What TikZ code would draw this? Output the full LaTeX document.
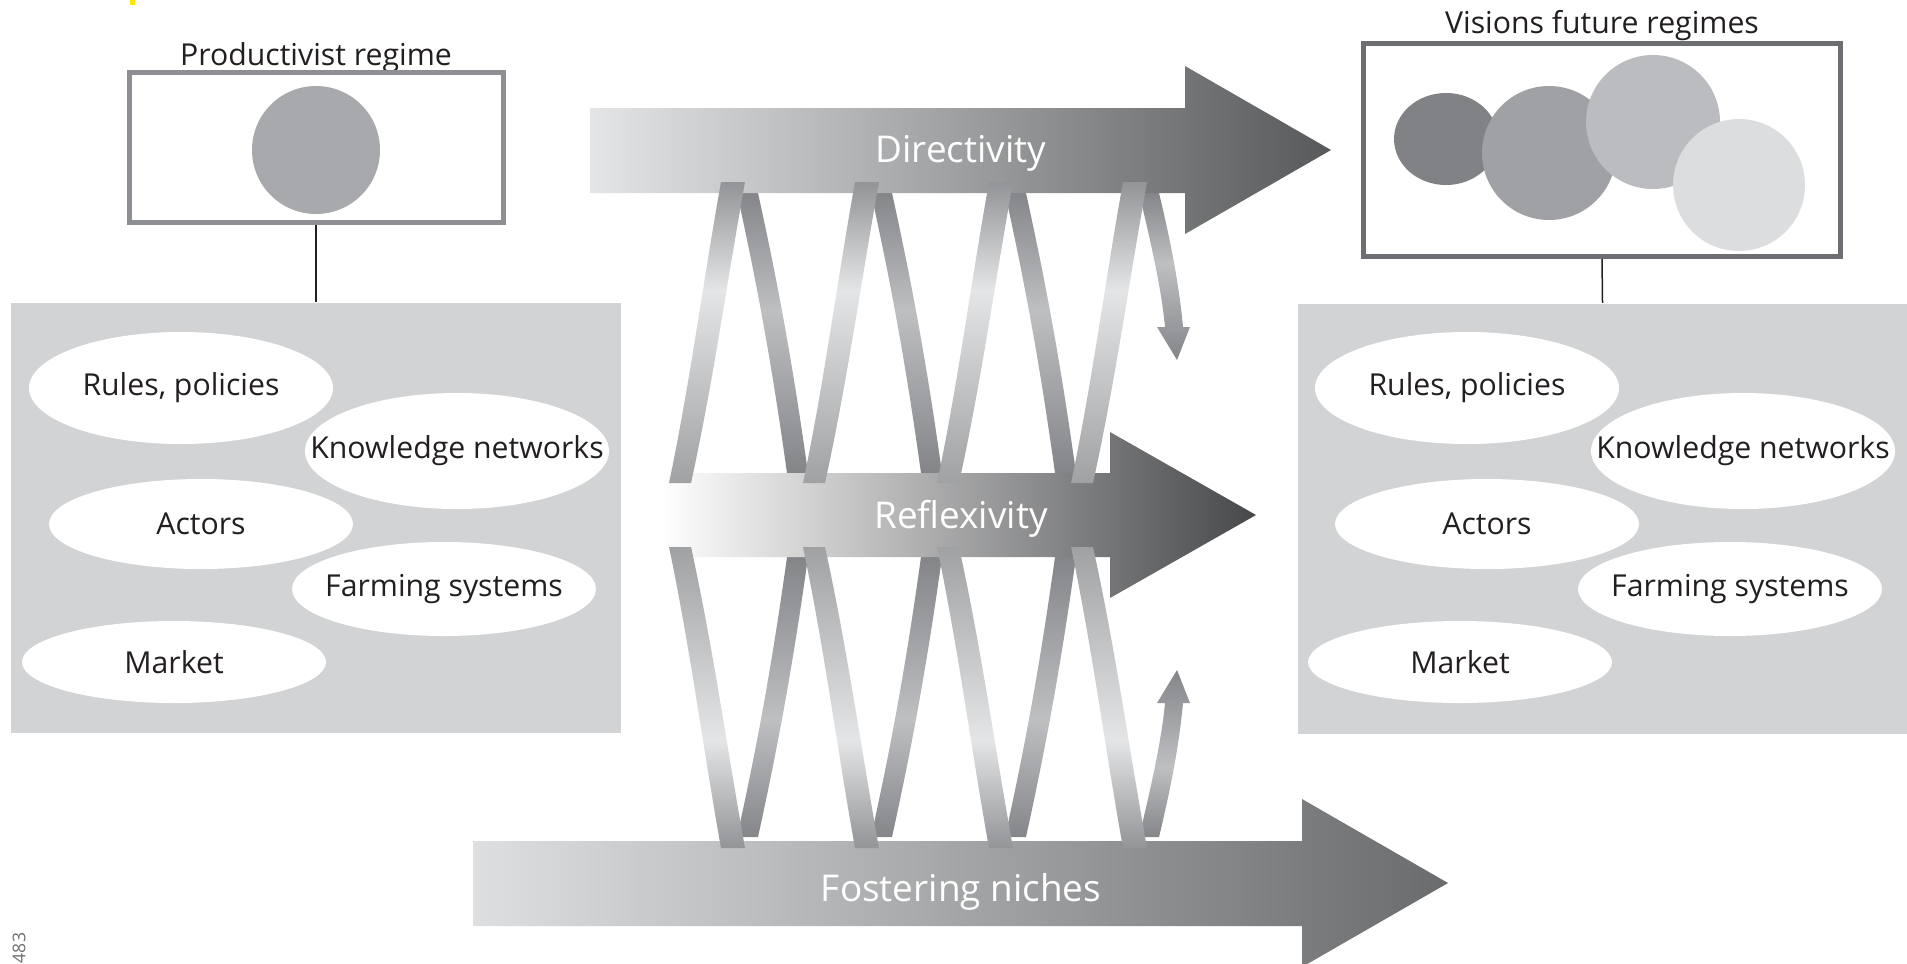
\documentclass[tikz,border=0pt]{standalone}
\usepackage{fontspec}
\setmainfont{Open Sans}
\usetikzlibrary{shapes.geometric}

\definecolor{inkblack}{HTML}{231F20}
\definecolor{panelgray}{HTML}{D1D3D4}
\definecolor{leftline}{HTML}{8E8F92}
\definecolor{rightline}{HTML}{6D6E71}
\definecolor{prodgray}{HTML}{A7A9AC}
\definecolor{visone}{HTML}{808285}
\definecolor{vistwo}{HTML}{A0A1A4}
\definecolor{visthree}{HTML}{BBBCBF}
\definecolor{visfour}{HTML}{DCDDDE}
\definecolor{dirleft}{HTML}{E4E5E6}
\definecolor{dirright}{HTML}{58595B}
\definecolor{reflmid}{HTML}{A4A5A7}
\definecolor{reflright}{HTML}{47484A}
\definecolor{fostleft}{HTML}{DEDFE0}
\definecolor{fostright}{HTML}{6A6B6D}
\definecolor{fronttop}{HTML}{939497}
\definecolor{frontmid}{HTML}{E4E5E6}
\definecolor{frontbot}{HTML}{A0A1A3}
\definecolor{backtop}{HTML}{85868A}
\definecolor{backmid}{HTML}{BEBFC1}
\definecolor{backbot}{HTML}{848589}
\definecolor{pagegray}{HTML}{6D6E70}

% light band sits nearer to the directivity arrow
\pgfdeclareverticalshading{frontup}{100bp}{color(0bp)=(frontbot); color(25bp)=(frontbot);
  color(57bp)=(frontmid); color(75bp)=(fronttop); color(100bp)=(fronttop)}
\pgfdeclareverticalshading{frontdown}{100bp}{color(0bp)=(fronttop); color(25bp)=(fronttop);
  color(43bp)=(frontmid); color(75bp)=(frontbot); color(100bp)=(frontbot)}
\pgfdeclareverticalshading{backup}{100bp}{color(0bp)=(backbot); color(25bp)=(backbot);
  color(54bp)=(backmid); color(75bp)=(backtop); color(100bp)=(backtop)}
\pgfdeclareverticalshading{backdown}{100bp}{color(0bp)=(backtop); color(25bp)=(backtop);
  color(46bp)=(backmid); color(75bp)=(backbot); color(100bp)=(backbot)}

\tikzstyle{regbox}=[shape=rectangle, line width=0.5mm, fill=white, inner sep=0pt]
\tikzstyle{panel}=[shape=rectangle, fill=panelgray, inner sep=0pt, minimum width=61mm, minimum height=43mm]
\tikzstyle{part}=[ellipse, fill=white, inner sep=0pt, minimum width=30.4mm, text=inkblack, font=\fontsize{8.6}{10}\selectfont]
\tikzstyle{title}=[text=inkblack, font=\fontsize{8.6}{10}\selectfont]
\tikzstyle{flowtext}=[text=white, font=\fontsize{10.5}{12}\selectfont]
\tikzstyle{frontrib}=[shading=frontup]
\tikzstyle{backrib}=[shading=backup]

% one turn of the coil, #1 = left foot of the turn
\newcommand{\frontstrand}[1]{%
  \shade[frontrib] (#1+2,483) .. controls (#1+23,383) and (#1+36,282) .. (#1+54,182)
    -- (#1+78,182) .. controls (#1+60,282) and (#1+46,383) .. (#1+24,483) -- cycle;}
\newcommand{\backstrand}[1]{%
  \shade[backrib] (#1+70,193) .. controls (#1+92,293) and (#1+106,373) .. (#1+120,473)
    -- (#1+141,473) .. controls (#1+127,373) and (#1+113,293) .. (#1+91,193) -- cycle;}
\newcommand{\arrowstrand}[1]{%
  \shade[backrib] (#1+70,193) .. controls (#1+85,255) and (#1+93,295) .. (#1+96,327)
    -- (#1+88,327) -- (#1+108,360) -- (#1+121,327) -- (#1+114,327)
    .. controls (#1+111,295) and (#1+105,255) .. (#1+90,193) -- cycle;}

\begin{document}
\begin{tikzpicture}[x=0.1mm, y=-0.1mm]
        \useasboundingbox (0,0) rectangle (1907,963);
        \fill[yellow!90!orange] (130,0) rectangle (135,5);
        \node[rotate=90, text=pagegray, font=\fontsize{5}{6}\selectfont] (pagenum) at (19,948) {483};

        % left: productivist regime
        \node[title] at (316,58) (prodlabel) {Productivist regime};
        \node[regbox, draw=leftline, minimum width=37.4mm, minimum height=15mm] at (316,147.5) (prodbox) {};
        \node[circle, fill=prodgray, minimum size=12.8mm, inner sep=0pt] at (316,150) (prodcirc) {};
        \node[panel] at (316,517.5) (leftpanel) {};
        \node[part, minimum height=11.2mm] at (181,388) (lrules) {\makebox[0pt]{Rules, policies}};
        \node[part, minimum height=11.6mm] at (457,451) (lknow) {\makebox[0pt]{Knowledge networks}};
        \node[part, minimum height=9mm] at (201,524) (lactors) {\makebox[0pt]{Actors}};
        \node[part, minimum height=9.4mm] at (444,589) (lfarm) {\makebox[0pt]{Farming systems}};
        \node[part, minimum height=8.2mm] at (174,662) (lmarket) {\makebox[0pt]{Market}};
        \draw[inkblack, line width=0.15mm] (prodbox.south) -- (leftpanel.north);

        % right: visions future regimes
        \node[title] at (1602,26) (vislabel) {Visions future regimes};
        \node[regbox, draw=rightline, minimum width=47.7mm, minimum height=21.3mm] at (1602,150) (visbox) {};
        \node[ellipse, fill=visone, minimum width=10.4mm, minimum height=9.2mm, inner sep=0pt] at (1446,139) (visa) {};
        \node[circle, fill=vistwo, minimum size=13.4mm, inner sep=0pt] at (1549,153) (visb) {};
        \node[circle, fill=visthree, minimum size=13.4mm, inner sep=0pt] at (1653,122) (visc) {};
        \node[circle, fill=visfour, minimum size=13.2mm, inner sep=0pt] at (1739,185) (visd) {};
        \node[panel] at (1602.5,518.5) (rightpanel) {};
        \node[part, minimum height=11.2mm] at (1467,388) (rrules) {\makebox[0pt]{Rules, policies}};
        \node[part, minimum height=11.6mm] at (1743,451) (rknow) {\makebox[0pt]{Knowledge networks}};
        \node[part, minimum height=9mm] at (1487,524) (ractors) {\makebox[0pt]{Actors}};
        \node[part, minimum height=9.4mm] at (1730,589) (rfarm) {\makebox[0pt]{Farming systems}};
        \node[part, minimum height=8.2mm] at (1460,662) (rmarket) {\makebox[0pt]{Market}};
        \draw[inkblack, line width=0.15mm] (visbox.south) -- (rightpanel.north);

        % coil, parts behind the arrows
        \backstrand{667} \backstrand{801} \backstrand{935} \arrowstrand{1069}
        \begin{scope}[shift={(0,1030)}, yscale=-1, backrib/.style={shading=backdown}]
            \backstrand{667} \backstrand{801} \backstrand{935} \arrowstrand{1069}
        \end{scope}

        % the three arrows
        \shade[left color=dirleft, right color=dirright] (590,108) -- (1185,108) -- (1185,66) -- (1331,150)
            -- (1185,234) -- (1185,193) -- (590,193) -- cycle;
        \node[flowtext] at (961,153) (directivity) {Directivity};
        \shade[left color=white, middle color=reflmid, right color=reflright] (660,473) -- (1110,473) -- (1110,432)
            -- (1256,515) -- (1110,598) -- (1110,557) -- (660,557) -- cycle;
        \node[flowtext] at (961,519) (reflexivity) {Reflexivity};
        \shade[left color=fostleft, right color=fostright] (473,841) -- (1302,841) -- (1302,799) -- (1448,883)
            -- (1302,967) -- (1302,926) -- (473,926) -- cycle;
        \node[flowtext] at (961,892) (fostering) {Fostering niches};

        % coil, parts in front
        \frontstrand{667} \frontstrand{801} \frontstrand{935} \frontstrand{1069}
        \begin{scope}[shift={(0,1030)}, yscale=-1, frontrib/.style={shading=frontdown}]
            \frontstrand{667} \frontstrand{801} \frontstrand{935} \frontstrand{1069}
        \end{scope}
    \end{tikzpicture}
\end{document}
